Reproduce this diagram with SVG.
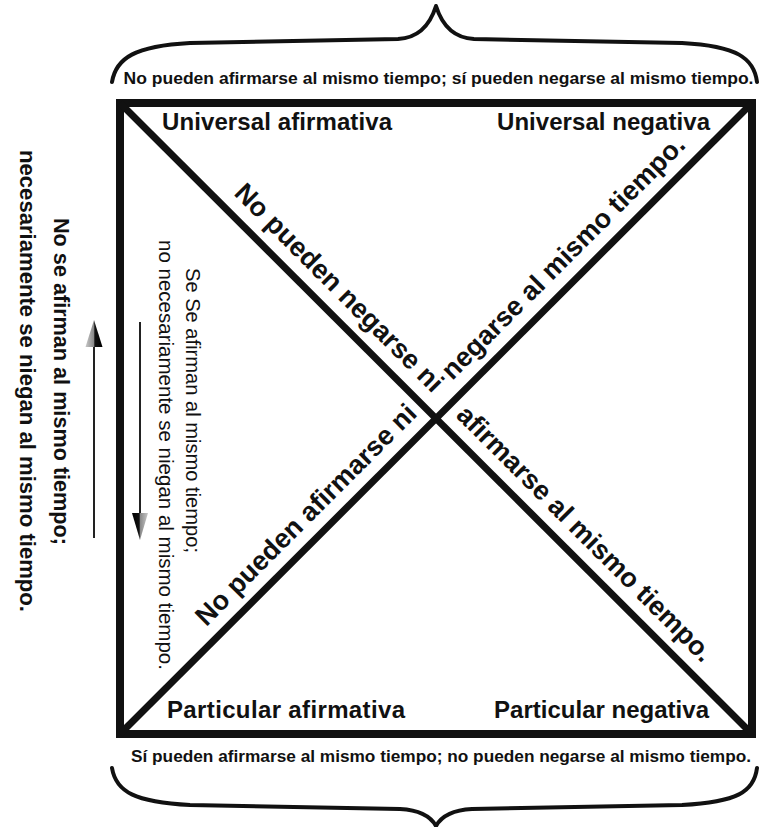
<svg xmlns="http://www.w3.org/2000/svg" width="759" height="827" viewBox="0 0 759 827">
<style>
.b{font-family:"Liberation Sans",Arial,sans-serif;font-weight:bold;fill:#111}
.r{font-family:"Liberation Sans",Arial,sans-serif;font-weight:normal;fill:#111}
.corner{font-size:24px}
.diag{font-size:27px}
.side{font-size:17px}
.left{font-size:22px}
.inner{font-size:20px}
.brace{fill:none;stroke:#111;stroke-width:4;stroke-linecap:round;stroke-linejoin:round}
.edge{fill:none;stroke:#111;stroke-width:8}
.diagline{stroke:#111;stroke-width:7}
.shaft{stroke:#222;stroke-width:2}
</style>
<defs>
<linearGradient id="gUp" x1="0" y1="0" x2="1" y2="0">
<stop offset="0" stop-color="#c8c8c8"/>
<stop offset="0.48" stop-color="#8a8a8a"/>
<stop offset="0.55" stop-color="#111"/>
<stop offset="1" stop-color="#000"/>
</linearGradient>
<linearGradient id="gDown" x1="0" y1="0" x2="1" y2="0">
<stop offset="0" stop-color="#000"/>
<stop offset="0.45" stop-color="#111"/>
<stop offset="0.52" stop-color="#8a8a8a"/>
<stop offset="1" stop-color="#c8c8c8"/>
</linearGradient>
</defs>
<rect width="759" height="827" fill="#fff"/>

<g id="connectors">
<rect class="edge" x="120" y="103" width="632" height="631"/>
<line class="diagline" x1="120" y1="103" x2="752" y2="734"/>
<line class="diagline" x1="752" y1="103" x2="120" y2="734"/>
</g>

<g id="top-brace">
<path class="brace" d="M112,82 C116,58 135,46 190,43 L398,39 C418,38 430,25 436,6 C442,25 454,38 474,39 L682,43 C737,46 754,58 757,82"/>
<text class="b side" x="438.5" y="84" text-anchor="middle" textLength="630" lengthAdjust="spacingAndGlyphs">No pueden afirmarse al mismo tiempo; sí pueden negarse al mismo tiempo.</text>
</g>

<g id="bottom-brace">
<path class="brace" d="M112,768 C116,792 135,802 190,805 L400,809 C420,810 431,817 436,826 C441,817 452,810 472,809 L682,805 C737,802 754,792 757,768"/>
<text class="b side" x="441" y="762" text-anchor="middle" textLength="620" lengthAdjust="spacingAndGlyphs">Sí pueden afirmarse al mismo tiempo; no pueden negarse al mismo tiempo.</text>
</g>

<g id="universal-afirmativa"><text class="b corner" x="162" y="130" textLength="230" lengthAdjust="spacing">Universal afirmativa</text></g>
<g id="universal-negativa"><text class="b corner" x="497" y="130" textLength="213" lengthAdjust="spacing">Universal negativa</text></g>
<g id="particular-afirmativa"><text class="b corner" x="167" y="718" textLength="238" lengthAdjust="spacing">Particular afirmativa</text></g>
<g id="particular-negativa"><text class="b corner" x="494" y="718" textLength="215" lengthAdjust="spacing">Particular negativa</text></g>

<g id="diag-tl-br" transform="translate(436,418.5) rotate(45)">
<text class="b diag" x="-20" y="-15" text-anchor="end">No pueden negarse ni</text>
<text class="b diag" x="12" y="-15">afirmarse al mismo tiempo.</text>
</g>
<g id="diag-bl-tr" transform="translate(436,418.5) rotate(-45)">
<text class="b diag" x="-10" y="-15" text-anchor="end">No pueden afirmarse ni</text>
<text class="b diag" x="38" y="-15">negarse al mismo tiempo.</text>
</g>

<g id="outer-note">
<text class="b left" transform="translate(54,218) rotate(90)" textLength="327" lengthAdjust="spacingAndGlyphs">No se afirman al mismo tiempo;</text>
<text class="b left" transform="translate(20,150) rotate(90)" textLength="462" lengthAdjust="spacingAndGlyphs">necesariamente se niegan al mismo tiempo.</text>
</g>
<g id="outer-arrow">
<line class="shaft" x1="94" y1="538" x2="94" y2="345"/>
<polygon points="94,320 85.5,347 102.5,347" fill="url(#gUp)"/>
</g>

<g id="inner-note">
<text class="r inner" transform="translate(186,268) rotate(90)" textLength="285" lengthAdjust="spacingAndGlyphs">Se Se afirman al mismo tiempo;</text>
<text class="r inner" transform="translate(159,240) rotate(90)" textLength="430" lengthAdjust="spacingAndGlyphs">no necesariamente se niegan al mismo tiempo.</text>
</g>
<g id="inner-arrow">
<line class="shaft" x1="140" y1="322" x2="140" y2="515"/>
<polygon points="140,540 132,513 148,513" fill="url(#gDown)"/>
</g>
</svg>
